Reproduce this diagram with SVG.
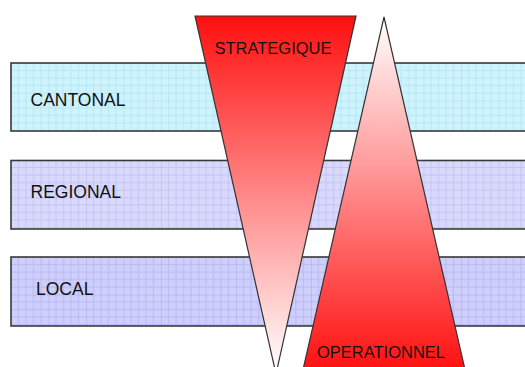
<svg xmlns="http://www.w3.org/2000/svg" width="525" height="367" viewBox="0 0 525 367">
<style>
.band{stroke:#3a3a3a;stroke-width:1.6}
.lbl{font-family:"Liberation Sans",Arial,sans-serif;font-size:17.5px;fill:#111}
.tri{stroke:#333;stroke-width:1.2}
.tlbl{font-family:"Liberation Sans",Arial,sans-serif;font-size:16.5px;fill:#111;text-anchor:middle}
</style>
<defs>
<pattern id="gridC" x="11" y="63" width="37.5" height="37.5" patternUnits="userSpaceOnUse">
<rect width="37.5" height="37.5" fill="#cff3fc"/>
<path d="M7.5 0V37.5M15 0V37.5M22.5 0V37.5M30 0V37.5M0 7.5H37.5M0 15H37.5M0 22.5H37.5M0 30H37.5" stroke="#b2e8f6" stroke-width="1" fill="none"/>
<path d="M0 0V37.5M0 0H37.5" stroke="#9edff2" stroke-width="1" fill="none"/>
</pattern>
<pattern id="gridR" x="11" y="160" width="37.5" height="37.5" patternUnits="userSpaceOnUse">
<rect width="37.5" height="37.5" fill="#d9d9fc"/>
<path d="M7.5 0V37.5M15 0V37.5M22.5 0V37.5M30 0V37.5M0 7.5H37.5M0 15H37.5M0 22.5H37.5M0 30H37.5" stroke="#c4c4f7" stroke-width="1" fill="none"/>
<path d="M0 0V37.5M0 0H37.5" stroke="#b3b3f3" stroke-width="1" fill="none"/>
</pattern>
<pattern id="gridL" x="11" y="257" width="37.5" height="37.5" patternUnits="userSpaceOnUse">
<rect width="37.5" height="37.5" fill="#cfcffb"/>
<path d="M7.5 0V37.5M15 0V37.5M22.5 0V37.5M30 0V37.5M0 7.5H37.5M0 15H37.5M0 22.5H37.5M0 30H37.5" stroke="#b9b9f5" stroke-width="1" fill="none"/>
<path d="M0 0V37.5M0 0H37.5" stroke="#a6a6f1" stroke-width="1" fill="none"/>
</pattern>
<linearGradient id="gDown" x1="0" y1="16" x2="0" y2="372" gradientUnits="userSpaceOnUse">
<stop offset="0" stop-color="#ff0f0f"/>
<stop offset="1" stop-color="#ffffff"/>
</linearGradient>
<linearGradient id="gUp" x1="0" y1="17" x2="0" y2="372" gradientUnits="userSpaceOnUse">
<stop offset="0" stop-color="#ffffff"/>
<stop offset="1" stop-color="#ff0f0f"/>
</linearGradient>
</defs>
<rect width="525" height="367" fill="#ffffff"/>
<g id="cantonal">
<rect class="band" x="11" y="63" width="520" height="68" fill="url(#gridC)"/>
<text class="lbl" x="30.5" y="106">CANTONAL</text>
</g>
<g id="regional">
<rect class="band" x="11" y="160.5" width="520" height="68.5" fill="url(#gridR)"/>
<text class="lbl" x="30.5" y="198">REGIONAL</text>
</g>
<g id="local">
<rect class="band" x="11" y="257" width="520" height="69" fill="url(#gridL)"/>
<text class="lbl" x="36" y="295">LOCAL</text>
</g>
<g id="strategique">
<polygon class="tri" points="195,16 356,16 276,374" fill="url(#gDown)"/>
<text class="tlbl" x="273" y="53.5">STRATEGIQUE</text>
</g>
<g id="operationnel">
<polygon class="tri" points="384,17 466,374 302,374" fill="url(#gUp)"/>
<text class="tlbl" x="381" y="357.5">OPERATIONNEL</text>
</g>
<g id="connectors"/>
</svg>
